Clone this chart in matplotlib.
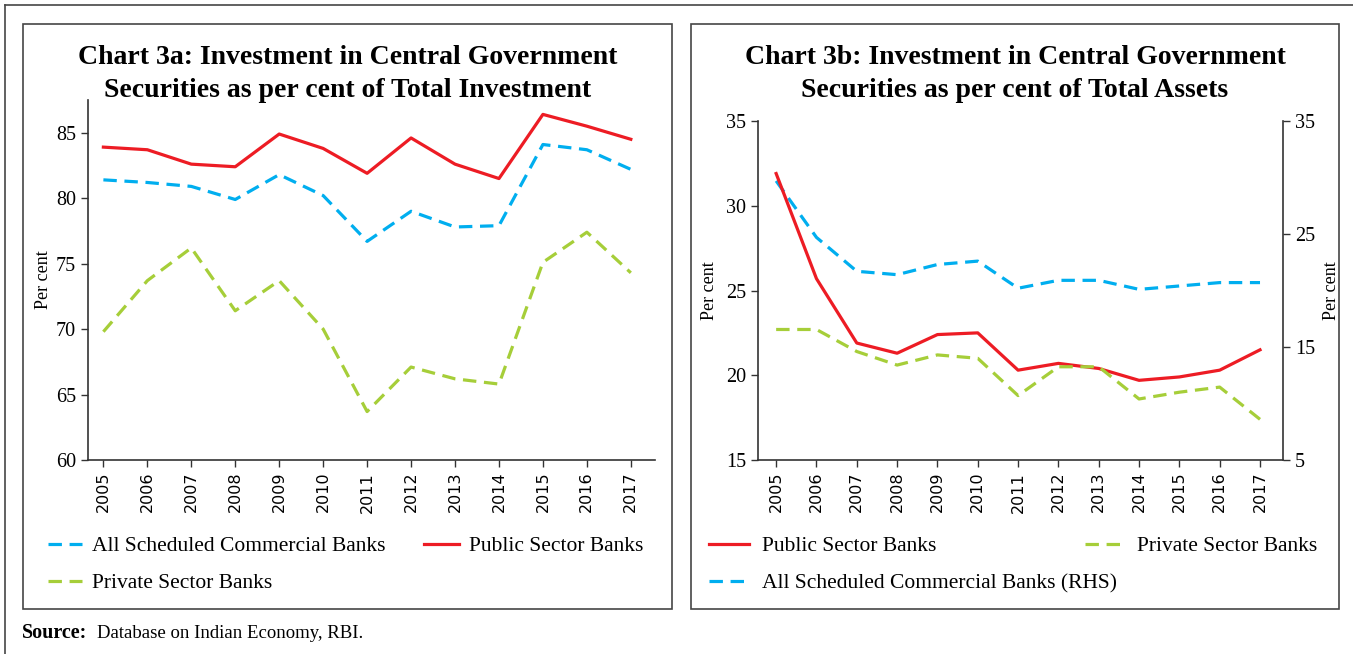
import matplotlib
matplotlib.use("Agg")
from matplotlib import pyplot as plt
from matplotlib.lines import Line2D
from matplotlib.patches import Rectangle

# data
years = [2005, 2006, 2007, 2008, 2009, 2010, 2011, 2012, 2013, 2014, 2015, 2016, 2017]

# chart 3a: share of total investment
inv_scb = [81.4, 81.2, 80.9, 79.9, 81.8, 80.2, 76.7, 79.0, 77.8, 77.9, 84.1, 83.7, 82.2]
inv_public = [83.9, 83.7, 82.6, 82.4, 84.9, 83.8, 81.9, 84.6, 82.6, 81.5, 86.4, 85.5, 84.5]
inv_private = [69.8, 73.7, 76.2, 71.4, 73.7, 70.0, 63.7, 67.1, 66.2, 65.8, 75.1, 77.4, 74.3]

# chart 3b: share of total assets
ast_public = [31.9, 25.7, 21.9, 21.3, 22.4, 22.5, 20.3, 20.7, 20.4, 19.7, 19.9, 20.3, 21.5]
ast_private = [22.7, 22.7, 21.4, 20.6, 21.2, 21.0, 18.8, 20.5, 20.5, 18.6, 19.0, 19.3, 17.4]
ast_scb_rhs = [29.7, 24.7, 21.7, 21.4, 22.3, 22.6, 20.2, 20.9, 20.9, 20.1, 20.4, 20.7, 20.7]

RED = "#ed1c24"
BLUE = "#00aeef"
GREEN = "#a6ce39"
FRAME = "#454545"
SERIF = "Liberation Serif"
LW = 2.3
DASH = (4.2, 2.4)

W, H = 1353, 654
fig = plt.figure(figsize=(W / 100, H / 100), dpi=100)


def box(x0, y0, x1, y1):
    # pixel coords (top-left origin) -> figure fraction
    return [x0 / W, 1 - y1 / H, (x1 - x0) / W, (y1 - y0) / H]


def frame(x0, y0, x1, y1):
    l, b, w, h = box(x0, y0, x1, y1)
    fig.patches.append(Rectangle((l, b), w, h, transform=fig.transFigure,
                                 fill=False, ec=FRAME, lw=1.2))


# outer frame: only top and left edges visible
fig.add_artist(Line2D([5 / W, 1], [1 - 5 / H, 1 - 5 / H], transform=fig.transFigure,
                      color=FRAME, lw=1.2))
fig.add_artist(Line2D([5 / W, 5 / W], [0, 1 - 5 / H], transform=fig.transFigure,
                      color=FRAME, lw=1.2))
frame(23, 24, 672, 609)
frame(691, 24, 1339, 609)


def style_axis(ax):
    for s in ["top", "right"]:
        ax.spines[s].set_visible(False)
    for s in ax.spines.values():
        s.set_color("#333333")
        s.set_linewidth(1.2)
    ax.set_xticks(years)
    ax.set_xticklabels([str(y) for y in years], rotation=90,
                       fontsize=11.5, family="DejaVu Sans")
    ax.tick_params(axis="both", direction="out", length=5, width=1.0, color="#333333")
    for lab in ax.get_yticklabels():
        lab.set_family(SERIF)
        lab.set_fontsize(14.5)


# ---------- chart 3a ----------
ax1 = fig.add_axes(box(88, 100, 655, 460))
ax1.plot(years, inv_scb, color=BLUE, lw=LW, dashes=DASH)
ax1.plot(years, inv_public, color=RED, lw=LW)
ax1.plot(years, inv_private, color=GREEN, lw=LW, dashes=DASH)
ax1.set_xlim(2004.65, 2017.55)
ax1.set_ylim(60, 87.5)
ax1.set_yticks([60, 65, 70, 75, 80, 85])
style_axis(ax1)
ax1.set_ylabel("Per cent", family=SERIF, fontsize=13, labelpad=3)
fig.text(348 / W, 1 - 74 / H,
         "Chart 3a: Investment in Central Government\nSecurities as per cent of Total Investment",
         ha="center", va="center", family=SERIF, weight="bold", fontsize=20, linespacing=1.45)

# ---------- chart 3b ----------
ax2 = fig.add_axes(box(758, 121, 1283, 460))
ax2.plot(years, ast_public, color=RED, lw=LW)
ax2.plot(years, ast_private, color=GREEN, lw=LW, dashes=DASH)
ax2.set_xlim(2004.55, 2017.57)
ax2.set_ylim(15, 35)
ax2.set_yticks([15, 20, 25, 30, 35])
style_axis(ax2)
ax2.set_ylabel("Per cent", family=SERIF, fontsize=13, labelpad=6)

ax3 = ax2.twinx()
ax3.plot(years, ast_scb_rhs, color=BLUE, lw=LW, dashes=DASH)
ax3.set_ylim(5, 35)
ax3.set_yticks([5, 15, 25, 35])
ax3.set_xlim(2004.55, 2017.57)
for s in ["top", "left", "bottom"]:
    ax3.spines[s].set_visible(False)
ax3.spines["right"].set_color("#333333")
ax3.spines["right"].set_linewidth(1.2)
ax3.tick_params(axis="y", direction="out", length=5, width=1.0, color="#333333")
for lab in ax3.get_yticklabels():
    lab.set_family(SERIF)
    lab.set_fontsize(14.5)
ax3.set_ylabel("Per cent", family=SERIF, fontsize=13, labelpad=6)
ax2.set_zorder(ax3.get_zorder() + 1)
ax2.patch.set_visible(False)
fig.text(1015 / W, 1 - 74 / H,
         "Chart 3b: Investment in Central Government\nSecurities as per cent of Total Assets",
         ha="center", va="center", family=SERIF, weight="bold", fontsize=20, linespacing=1.45)

# ---------- legends ----------
h_scb = Line2D([], [], color=BLUE, lw=LW, dashes=DASH)
h_pub = Line2D([], [], color=RED, lw=LW)
h_pvt = Line2D([], [], color=GREEN, lw=LW, dashes=DASH)
leg_kw = dict(frameon=False, loc="center left", borderpad=0, borderaxespad=0,
              prop={"family": SERIF, "size": 15.5})
left_kw = dict(handlelength=1.6, handletextpad=0.45, **leg_kw)
right_kw = dict(handlelength=1.85, handletextpad=0.6, **leg_kw)

fig.legend([h_scb, h_pub], ["All Scheduled Commercial Banks", "Public Sector Banks"],
           ncol=2, columnspacing=1.8, bbox_to_anchor=(48 / W, 1 - 546 / H), **left_kw)
fig.legend([h_pvt], ["Private Sector Banks"],
           bbox_to_anchor=(48 / W, 1 - 583 / H), **left_kw)
fig.legend([h_pub, h_pvt], ["Public Sector Banks", "Private Sector Banks"],
           ncol=2, columnspacing=6.9, bbox_to_anchor=(709 / W, 1 - 546 / H), **right_kw)
fig.legend([h_scb], ["All Scheduled Commercial Banks (RHS)"],
           bbox_to_anchor=(709 / W, 1 - 583 / H), **right_kw)

# ---------- source ----------
fig.text(22 / W, 1 - 633 / H, "Source:", family=SERIF, weight="bold",
         fontsize=14.5, va="center", ha="left")
fig.text(97 / W, 1 - 633 / H, "Database on Indian Economy, RBI.", family=SERIF,
         fontsize=13.5, va="center", ha="left")

fig.savefig("out.png", dpi=100)
